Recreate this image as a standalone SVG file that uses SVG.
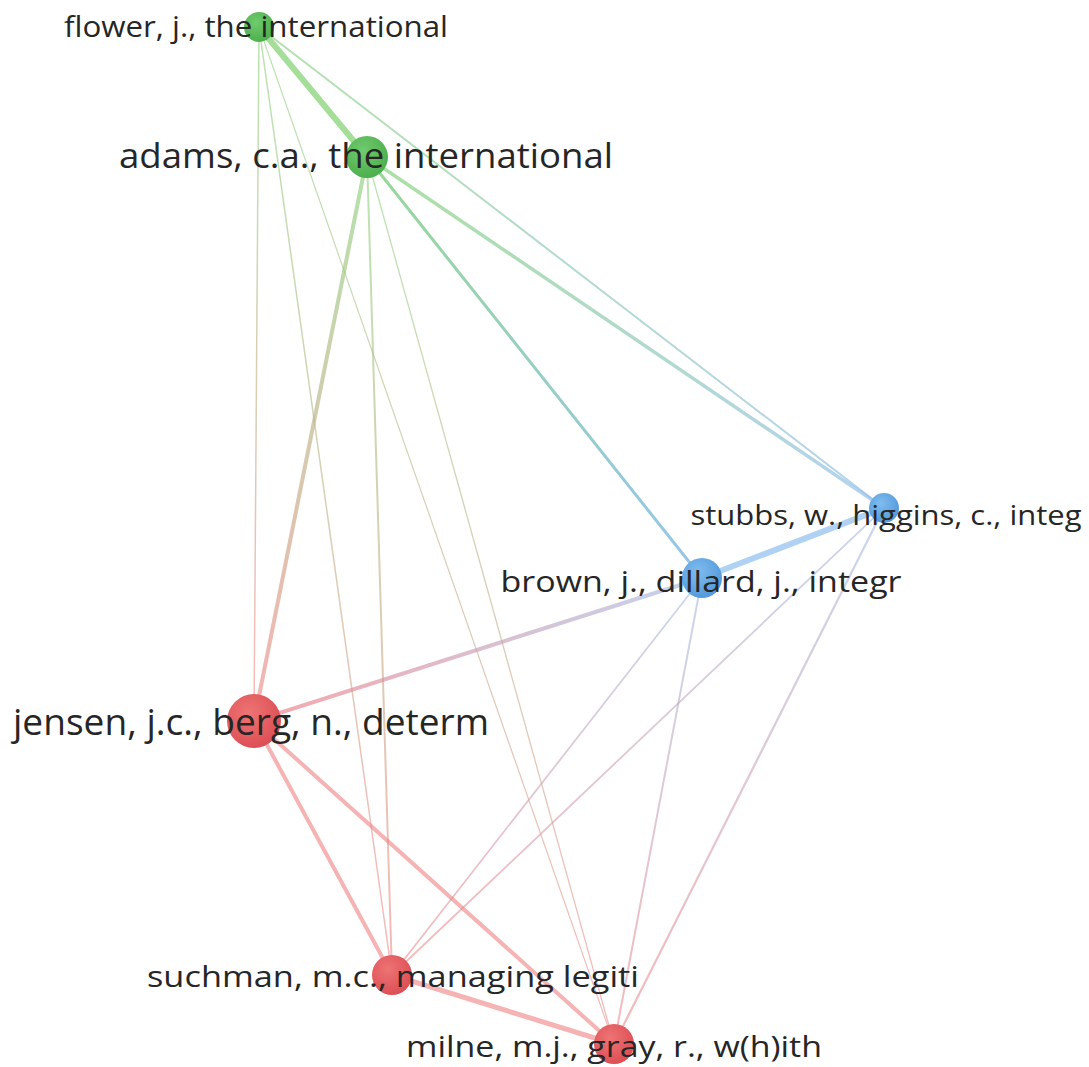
<svg xmlns="http://www.w3.org/2000/svg" width="1089" height="1067" viewBox="0 0 1089 1067">
<style>
.lbl{font-family:"Open Sans","Liberation Sans",sans-serif;fill:#262626;text-anchor:middle}
.e{fill:none;stroke-linecap:round}
</style>
<defs>
<radialGradient id="ng" cx="0.4" cy="0.35" r="0.7"><stop offset="0" stop-color="#70cb6e"/><stop offset="1" stop-color="#4aad4b"/></radialGradient>
<radialGradient id="nb" cx="0.4" cy="0.35" r="0.7"><stop offset="0" stop-color="#80bcee"/><stop offset="1" stop-color="#4f98da"/></radialGradient>
<radialGradient id="nr" cx="0.4" cy="0.35" r="0.7"><stop offset="0" stop-color="#ee7474"/><stop offset="1" stop-color="#db4c53"/></radialGradient>
<linearGradient id="gFJ" gradientUnits="userSpaceOnUse" x1="259" y1="27" x2="254" y2="721"><stop offset="0" stop-color="#8ad37c"/><stop offset="1" stop-color="#f08a8a"/></linearGradient>
<linearGradient id="gFC" gradientUnits="userSpaceOnUse" x1="259" y1="27" x2="392" y2="975"><stop offset="0" stop-color="#8ad37c"/><stop offset="1" stop-color="#f08a8a"/></linearGradient>
<linearGradient id="gFM" gradientUnits="userSpaceOnUse" x1="259" y1="27" x2="614" y2="1044"><stop offset="0" stop-color="#8ad37c"/><stop offset="1" stop-color="#f08a8a"/></linearGradient>
<linearGradient id="gFS" gradientUnits="userSpaceOnUse" x1="259" y1="27" x2="884" y2="508"><stop offset="0" stop-color="#8ad37c"/><stop offset="1" stop-color="#8dbbea"/></linearGradient>
<linearGradient id="gAJ" gradientUnits="userSpaceOnUse" x1="367" y1="157" x2="254" y2="721"><stop offset="0" stop-color="#8ad37c"/><stop offset="1" stop-color="#f08a8a"/></linearGradient>
<linearGradient id="gAC" gradientUnits="userSpaceOnUse" x1="367" y1="157" x2="392" y2="975"><stop offset="0" stop-color="#8ad37c"/><stop offset="1" stop-color="#f08a8a"/></linearGradient>
<linearGradient id="gAM" gradientUnits="userSpaceOnUse" x1="367" y1="157" x2="614" y2="1044"><stop offset="0" stop-color="#8ad37c"/><stop offset="1" stop-color="#f08a8a"/></linearGradient>
<linearGradient id="gAB" gradientUnits="userSpaceOnUse" x1="367" y1="157" x2="702" y2="578"><stop offset="0" stop-color="#74cb72"/><stop offset="1" stop-color="#72b2e8"/></linearGradient>
<linearGradient id="gAS" gradientUnits="userSpaceOnUse" x1="367" y1="157" x2="884" y2="508"><stop offset="0" stop-color="#7fd070"/><stop offset="1" stop-color="#8dbbea"/></linearGradient>
<linearGradient id="gBJ" gradientUnits="userSpaceOnUse" x1="702" y1="578" x2="254" y2="721"><stop offset="0" stop-color="#a4bbe6"/><stop offset="1" stop-color="#ef7a80"/></linearGradient>
<linearGradient id="gBC" gradientUnits="userSpaceOnUse" x1="702" y1="578" x2="392" y2="975"><stop offset="0" stop-color="#a4bbe6"/><stop offset="1" stop-color="#f08a8a"/></linearGradient>
<linearGradient id="gBM" gradientUnits="userSpaceOnUse" x1="702" y1="578" x2="614" y2="1044"><stop offset="0" stop-color="#a4bbe6"/><stop offset="1" stop-color="#f08a8a"/></linearGradient>
<linearGradient id="gSC" gradientUnits="userSpaceOnUse" x1="884" y1="508" x2="392" y2="975"><stop offset="0" stop-color="#a4bbe6"/><stop offset="1" stop-color="#f08a8a"/></linearGradient>
<linearGradient id="gSM" gradientUnits="userSpaceOnUse" x1="884" y1="508" x2="614" y2="1044"><stop offset="0" stop-color="#a4bbe6"/><stop offset="1" stop-color="#f08a8a"/></linearGradient>
</defs>
<rect width="1089" height="1067" fill="#ffffff"/>
<g id="connectors">
<line class="e" x1="259" y1="27" x2="884" y2="508" stroke="url(#gFS)" stroke-width="2" stroke-opacity="0.65"/>
<line class="e" x1="259" y1="27" x2="254" y2="721" stroke="url(#gFJ)" stroke-width="1.5" stroke-opacity="0.6"/>
<line class="e" x1="259" y1="27" x2="392" y2="975" stroke="url(#gFC)" stroke-width="1.5" stroke-opacity="0.6"/>
<line class="e" x1="259" y1="27" x2="614" y2="1044" stroke="url(#gFM)" stroke-width="1.2" stroke-opacity="0.6"/>
<line class="e" x1="367" y1="157" x2="392" y2="975" stroke="url(#gAC)" stroke-width="2" stroke-opacity="0.6"/>
<line class="e" x1="367" y1="157" x2="614" y2="1044" stroke="url(#gAM)" stroke-width="1.3" stroke-opacity="0.6"/>
<line class="e" x1="367" y1="157" x2="884" y2="508" stroke="url(#gAS)" stroke-width="3.5" stroke-opacity="0.65"/>
<line class="e" x1="367" y1="157" x2="702" y2="578" stroke="url(#gAB)" stroke-width="3" stroke-opacity="0.75"/>
<line class="e" x1="367" y1="157" x2="254" y2="721" stroke="url(#gAJ)" stroke-width="4" stroke-opacity="0.65"/>
<line class="e" x1="259" y1="27" x2="367" y2="157" stroke="#86d377" stroke-width="6" stroke-opacity="0.75"/>
<line class="e" x1="702" y1="578" x2="392" y2="975" stroke="url(#gBC)" stroke-width="1.8" stroke-opacity="0.6"/>
<line class="e" x1="702" y1="578" x2="614" y2="1044" stroke="url(#gBM)" stroke-width="2" stroke-opacity="0.6"/>
<line class="e" x1="884" y1="508" x2="392" y2="975" stroke="url(#gSC)" stroke-width="1.8" stroke-opacity="0.6"/>
<line class="e" x1="884" y1="508" x2="614" y2="1044" stroke="url(#gSM)" stroke-width="2.2" stroke-opacity="0.6"/>
<line class="e" x1="702" y1="578" x2="254" y2="721" stroke="url(#gBJ)" stroke-width="4" stroke-opacity="0.65"/>
<line class="e" x1="702" y1="578" x2="884" y2="508" stroke="#94c2ef" stroke-width="6" stroke-opacity="0.75"/>
<line class="e" x1="254" y1="721" x2="392" y2="975" stroke="#f08080" stroke-width="4" stroke-opacity="0.6"/>
<line class="e" x1="254" y1="721" x2="614" y2="1044" stroke="#f08080" stroke-width="4" stroke-opacity="0.6"/>
<line class="e" x1="392" y1="975" x2="614" y2="1044" stroke="#f08080" stroke-width="5" stroke-opacity="0.6"/>
</g>
<g id="n-flower"><circle cx="259" cy="27" r="15" fill="url(#ng)"/><text class="lbl" x="256" y="37" font-size="29" textLength="384" lengthAdjust="spacingAndGlyphs">flower, j., the international</text></g>
<g id="n-adams"><circle cx="367" cy="157" r="21" fill="url(#ng)"/><text class="lbl" x="366" y="168" font-size="35" textLength="494" lengthAdjust="spacingAndGlyphs">adams, c.a., the international</text></g>
<g id="n-stubbs"><circle cx="884" cy="508" r="15" fill="url(#nb)"/><text class="lbl" x="886" y="525" font-size="28" textLength="391" lengthAdjust="spacingAndGlyphs">stubbs, w., higgins, c., integ</text></g>
<g id="n-brown"><circle cx="702" cy="578" r="20" fill="url(#nb)"/><text class="lbl" x="701" y="592" font-size="30" textLength="401" lengthAdjust="spacingAndGlyphs">brown, j., dillard, j., integr</text></g>
<g id="n-jensen"><circle cx="254" cy="721" r="27" fill="url(#nr)"/><text class="lbl" x="251" y="735" font-size="37" textLength="476" lengthAdjust="spacingAndGlyphs">jensen, j.c., berg, n., determ</text></g>
<g id="n-suchman"><circle cx="392" cy="975" r="20" fill="url(#nr)"/><text class="lbl" x="393" y="987" font-size="30" textLength="492" lengthAdjust="spacingAndGlyphs">suchman, m.c., managing legiti</text></g>
<g id="n-milne"><circle cx="614" cy="1044" r="20" fill="url(#nr)"/><text class="lbl" x="614" y="1057" font-size="30" textLength="416" lengthAdjust="spacingAndGlyphs">milne, m.j., gray, r., w(h)ith</text></g>
</svg>
